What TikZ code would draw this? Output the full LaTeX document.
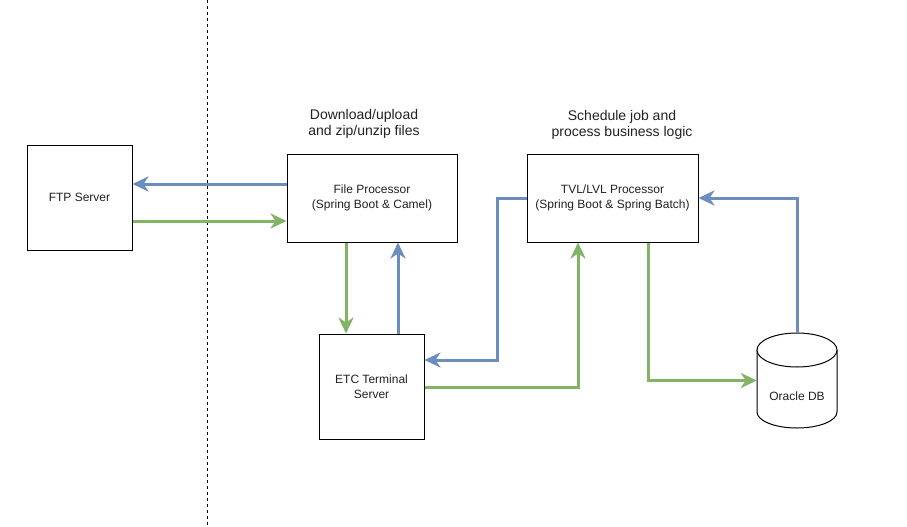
\documentclass[tikz,border=0pt]{standalone}
\usepackage{fontspec}
\setmainfont{Liberation Sans}
\usetikzlibrary{arrows.meta}
\definecolor{dblue}{HTML}{6C8EBF}
\definecolor{dgreen}{HTML}{82B366}
\definecolor{txt}{HTML}{222222}
\begin{document}
\begin{tikzpicture}[x=1pt,y=-1pt,
  boxnode/.style={draw=black,line width=1pt,fill=white,align=center,inner sep=0pt,
    text=txt,font=\fontsize{12}{15}\selectfont},
  lbl/.style={align=center,text=txt,font=\fontsize{14}{16.5}\selectfont},
  conn/.style={line width=3pt,-{Stealth[length=16pt,width=15pt,inset=5pt]}},
  bconn/.style={conn,draw=dblue},
  gconn/.style={conn,draw=dgreen}]
\useasboundingbox (0,0) rectangle (907,527);
\fill[white] (0,0) rectangle (907,527);
% divider
\draw[line width=1pt,dash pattern=on 3pt off 3pt] (207,0) -- (207,527);
% boxes
\node[boxnode,minimum width=105pt,minimum height=105pt] (ftp) at (79.5,197.5) {FTP Server};
\node[boxnode,minimum width=170pt,minimum height=88pt] (fp) at (372,198) {File Processor\\(Spring Boot \& Camel)};
\node[boxnode,minimum width=171pt,minimum height=88pt] (tvl) at (612.5,198) {TVL/LVL Processor\\(Spring Boot \& Spring Batch)};
\node[boxnode,minimum width=105pt,minimum height=105pt] (etc) at (371.5,386.5) {ETC Terminal\\Server};
% oracle cylinder
\node[minimum width=80pt,minimum height=95pt,inner sep=0pt] (oracle) at (797,380.5) {};
\draw[line width=1pt,fill=white] (757,350) -- (757,412)
  arc[start angle=180,end angle=360,x radius=40pt,y radius=16pt] -- (837,350);
\draw[line width=1pt,fill=white] (797,350) ellipse [x radius=40pt,y radius=17pt];
\node[text=txt,font=\fontsize{12}{15}\selectfont] (oracletext) at (797,396) {Oracle DB};
% labels
\node[lbl] (lblfp) at (364,124) {Download/upload\\and zip/unzip files};
\node[lbl] (lbltvl) at (622,125) {Schedule job and\\process business logic};
% connectors
\draw[bconn] (fp.west |- 0,184) -- (ftp.east |- 0,184);
\draw[gconn] (ftp.east |- 0,221) -- (fp.west |- 0,221);
\draw[gconn] (fp.south -| 346,0) -- (etc.north -| 346,0);
\draw[bconn] (etc.north -| 398,0) -- (fp.south -| 398,0);
\draw[bconn] (tvl.west) -| (497,360) -- (etc.east |- 0,360);
\draw[gconn] (etc.east |- 0,387) -| (tvl.south -| 578,0);
\draw[gconn] (tvl.south -| 648,0) |- (oracle.west);
\draw[bconn] (oracle.north) |- (tvl.east);
\end{tikzpicture}
\end{document}
